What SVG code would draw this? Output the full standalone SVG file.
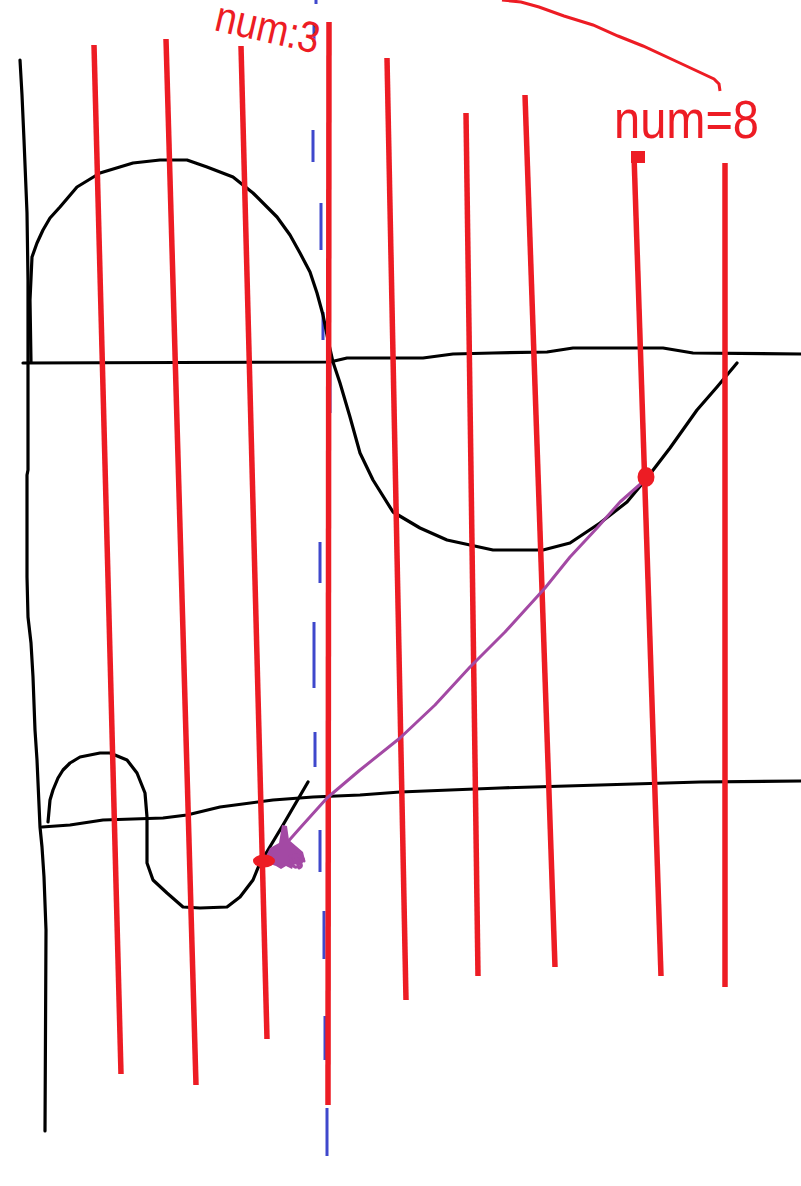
<svg xmlns="http://www.w3.org/2000/svg" width="801" height="1186" viewBox="0 0 801 1186">
<style>
.k{fill:none;stroke:#000;stroke-width:3.2;stroke-linejoin:round;stroke-linecap:round}
.r{fill:none;stroke:#ED1C24;stroke-width:5.5;stroke-linecap:butt}
.b{fill:none;stroke:#3F48CC;stroke-width:3}
.p{fill:none;stroke:#A349A4;stroke-width:3;stroke-linejoin:round;stroke-linecap:round}
.t{fill:#ED1C24;font-family:"Liberation Sans","DejaVu Sans",sans-serif}
</style>
<rect width="801" height="1186" fill="#fff"/>
<g id="blue-dashed">
<path class="b" d="M316 0V4M314 23V42M313 130V162M321 203V250M323 312V340M330 363V413M320 542V583M314 622V688M315 732V767M320 830V872M324 911V959M325 1016V1060M327 1108V1156"/>
</g>
<g id="black-curves">
<polyline class="k" points="20,60 22,95 24,140 27,213 28,280 28,470 27,475 27,577 28,617 31,643 33,677 35,730 37,760 40,827 42,847 44,877 46,930 45,1131"/>
<polyline class="k" points="23,363 330,362 347,358 423,358 453,354 493,353 547,352 573,348 663,348 693,353 801,354"/>
<polyline class="k" points="31,362 30,300 32,257 37,243 43,230 50,218 60,207 77,187 100,173 133,163 160,160 187,160 207,167 233,177 253,193 277,217 290,235 300,253 310,272 317,293 323,315 328,340 333,362 340,383 350,417 360,453 373,480 393,512 420,528 447,540 493,550 543,550 570,543 600,523 627,502 647,478 670,448 697,410 717,387 737,363"/>
<polyline class="k" points="42,827 70,825 103,820 163,818 187,815 220,807 273,800 313,797 360,795 400,792 500,788 600,785 700,782 801,781"/>
<polyline class="k" points="48,822 50,800 53,790 58,778 63,770 70,763 80,757 100,753 110,753 127,760 137,773 145,793 147,817 147,863 153,880 167,893 183,907 200,908 227,907 240,897 253,880 260,863 265,855 283,825 308,782"/>
</g>
<g id="red-lines">
<line class="r" x1="94" y1="45" x2="121" y2="1074"/>
<line class="r" x1="166" y1="39" x2="196" y2="1085"/>
<line class="r" x1="241" y1="46" x2="267" y2="1039"/>
<line class="r" x1="329" y1="22" x2="328" y2="1105"/>
<line class="r" x1="387" y1="58" x2="406" y2="1000"/>
<line class="r" x1="466" y1="113" x2="478" y2="976"/>
<line class="r" x1="525" y1="95" x2="555" y2="967"/>
<line class="r" x1="634" y1="155" x2="661" y2="976"/>
<line class="r" x1="725" y1="163" x2="725" y2="987"/>
<rect x="631" y="151" width="14" height="12" fill="#ED1C24"/>
<polyline class="r" style="stroke-width:3" points="502,0 521,2 539,7 564,16 593,25 618,36 643,46 682,64 714,79 719,84 720,91"/>
</g>
<g id="connector">
<polyline class="p" points="645,480 620,502 597,528 570,557 545,588 505,632 470,667 435,705 400,738 360,770 327,798 300,828 285,845"/>
<path d="M282 825 L287 826 L289 840 L296 846 L303 852 L305 860 L300 866 L294 864 L292 869 L286 866 L281 869 L276 866 L270 864 L266 856 L270 848 L279 843 Z" fill="#A349A4"/>
<path class="p" d="M290 856 Q302 853 304 861 M291 860 Q294 870 298 866 M296 858 Q305 866 299 868"/>
</g>
<g id="markers">
<ellipse cx="264" cy="861" rx="11" ry="6.5" fill="#ED1C24"/>
<ellipse cx="646" cy="477" rx="8.5" ry="10" fill="#ED1C24"/>
</g>
<g id="labels">
<text class="t" font-size="38" transform="translate(213 30) rotate(13) scale(1 1.15)">num:3</text>
<text class="t" font-size="47" transform="translate(614 138) scale(1 1.15)">num=8</text>
</g>
</svg>
